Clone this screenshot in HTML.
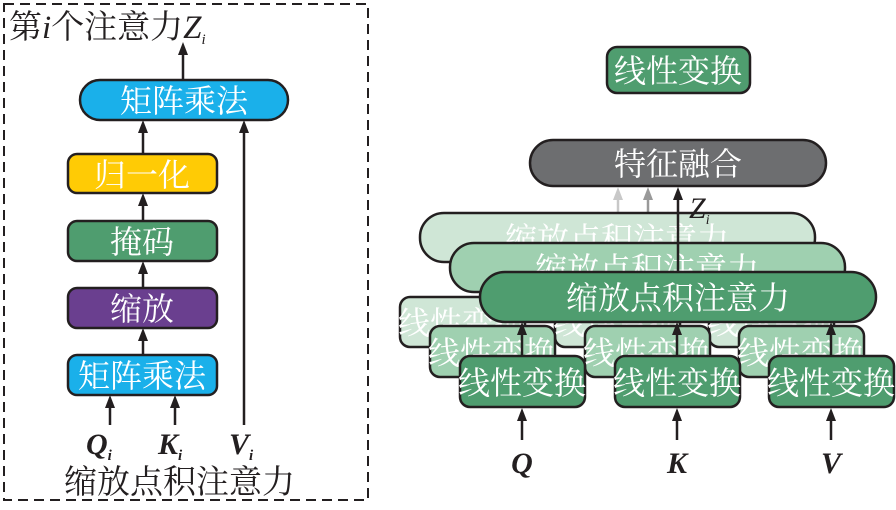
<!DOCTYPE html>
<html><head><meta charset="utf-8"><style>
body{margin:0;background:#fff}
svg text{font-family:"Liberation Serif","Noto Serif CJK SC","Noto Sans CJK SC",serif}
.w{fill:#fff;font-size:32px;text-anchor:middle}
.b{stroke:#231f20;stroke-width:2.5}
</style></head><body>
<svg width="896" height="505" viewBox="0 0 896 505" xmlns="http://www.w3.org/2000/svg">
<rect x="4" y="4" width="364" height="496" fill="none" stroke="#231f20" stroke-width="2" stroke-dasharray="10,6"/>
<text x="9" y="38" font-size="33" fill="#231f20">第<tspan font-style="italic">i</tspan>个注意力<tspan font-style="italic">Z</tspan><tspan font-style="italic" font-size="15" dy="6">i</tspan></text>
<g stroke="#231f20" stroke-width="2.5" fill="none">
<line x1="183" y1="80" x2="183" y2="52"/>
<line x1="143" y1="154" x2="143" y2="128"/>
<line x1="143" y1="221" x2="143" y2="200"/>
<line x1="143" y1="288" x2="143" y2="268"/>
<line x1="143" y1="355" x2="143" y2="335"/>
<line x1="110" y1="425" x2="110" y2="402"/>
<line x1="175" y1="425" x2="175" y2="402"/>
<line x1="244" y1="425" x2="244" y2="128"/>
</g>
<g fill="#231f20">
<path d="M183,42 l-5,13 h10z"/><path d="M143,120 l-5,13 h10z"/><path d="M143,193 l-5,13 h10z"/>
<path d="M143,261 l-5,13 h10z"/><path d="M143,328 l-5,13 h10z"/><path d="M110,395 l-5,13 h10z"/>
<path d="M175,395 l-5,13 h10z"/><path d="M244,120 l-5,13 h10z"/>
</g>
<rect x="80" y="80" width="208" height="40" rx="20" fill="#1ab0ea" class="b"/>
<text x="184" y="112" class="w">矩阵乘法</text>
<rect x="68" y="154" width="149" height="39" rx="9" fill="#ffcb05" class="b"/>
<text x="142" y="186" class="w">归一化</text>
<rect x="68" y="221" width="149" height="40" rx="9" fill="#4f9d6f" class="b"/>
<text x="142" y="253" class="w">掩码</text>
<rect x="68" y="288" width="149" height="40" rx="9" fill="#6a3f8f" class="b"/>
<text x="142" y="320" class="w">缩放</text>
<rect x="68" y="355" width="149" height="40" rx="9" fill="#1ab0ea" class="b"/>
<text x="142" y="387" class="w">矩阵乘法</text>
<g font-size="30" font-weight="bold" font-style="italic" fill="#231f20">
<text x="86" y="454">Q<tspan font-size="15" dy="6">i</tspan></text>
<text x="158" y="454">K<tspan font-size="15" dy="6">i</tspan></text>
<text x="229" y="454">V<tspan font-size="15" dy="6">i</tspan></text>
</g>
<text x="64" y="493" font-size="33" fill="#231f20">缩放点积注意力</text>

<rect x="607" y="47" width="143" height="46" rx="10" fill="#4f9d6f" class="b"/>
<text x="678" y="82" class="w">线性变换</text>
<rect x="530" y="140" width="296" height="46" rx="23" fill="#6d6e70" class="b"/>
<text x="678" y="175" class="w">特征融合</text>
<line x1="618" y1="213" x2="618" y2="195" stroke="#c8c8c8" stroke-width="2.5"/>
<path d="M618,187 l-5,13 h10z" fill="#c8c8c8"/>
<line x1="648" y1="243" x2="648" y2="195" stroke="#999" stroke-width="2.5"/>
<path d="M648,187 l-5,13 h10z" fill="#999"/>
<rect x="420" y="213" width="395" height="49" rx="24" fill="#cfe6d6" class="b"/>
<text x="617" y="250" class="w">缩放点积注意力</text>
<rect x="450" y="243" width="395" height="49" rx="24" fill="#9fd0b0" class="b"/>
<text x="647" y="280" class="w">缩放点积注意力</text>
<line x1="678" y1="272" x2="678" y2="195" stroke="#231f20" stroke-width="2.5"/>
<path d="M678,187 l-5,13 h10z" fill="#231f20"/>
<text x="689" y="218" font-size="30" font-style="italic" fill="#231f20">Z<tspan font-size="14" dy="6">i</tspan></text>
<g>
<rect x="400" y="297" width="125" height="50" rx="10" fill="#cfe6d6" class="b"/><text x="462" y="334" class="w">线性变换</text>
<rect x="555" y="297" width="125" height="50" rx="10" fill="#cfe6d6" class="b"/><text x="617" y="334" class="w">线性变换</text>
<rect x="709" y="297" width="125" height="50" rx="10" fill="#cfe6d6" class="b"/><text x="771" y="334" class="w">线性变换</text>
<rect x="430" y="326" width="125" height="51" rx="10" fill="#9fd0b0" class="b"/><text x="492" y="364" class="w">线性变换</text>
<rect x="585" y="326" width="125" height="51" rx="10" fill="#9fd0b0" class="b"/><text x="647" y="364" class="w">线性变换</text>
<rect x="739" y="326" width="125" height="51" rx="10" fill="#9fd0b0" class="b"/><text x="801" y="364" class="w">线性变换</text>
</g>
<rect x="480" y="272" width="396" height="50" rx="25" fill="#4f9d6f" class="b"/>
<text x="678" y="309" class="w">缩放点积注意力</text>
<g stroke="#231f20" stroke-width="2.5">
<line x1="522" y1="356" x2="522" y2="330"/>
<line x1="677" y1="356" x2="677" y2="330"/>
<line x1="831" y1="356" x2="831" y2="330"/>
<line x1="522" y1="440" x2="522" y2="416"/>
<line x1="677" y1="440" x2="677" y2="416"/>
<line x1="831" y1="440" x2="831" y2="416"/>
</g>
<g fill="#231f20">
<path d="M522,322 l-5,13 h10z"/><path d="M677,322 l-5,13 h10z"/><path d="M831,322 l-5,13 h10z"/>
<path d="M522,408 l-5,13 h10z"/><path d="M677,408 l-5,13 h10z"/><path d="M831,408 l-5,13 h10z"/>
</g>
<rect x="460" y="356" width="125" height="51" rx="10" fill="#4f9d6f" class="b"/><text x="522" y="394" class="w">线性变换</text>
<rect x="615" y="356" width="125" height="51" rx="10" fill="#4f9d6f" class="b"/><text x="677" y="394" class="w">线性变换</text>
<rect x="769" y="356" width="125" height="51" rx="10" fill="#4f9d6f" class="b"/><text x="831" y="394" class="w">线性变换</text>
<g font-size="30" font-weight="bold" font-style="italic" fill="#231f20" text-anchor="middle">
<text x="522" y="473">Q</text><text x="677" y="473">K</text><text x="831" y="473">V</text>
</g>
</svg>
</body></html>
